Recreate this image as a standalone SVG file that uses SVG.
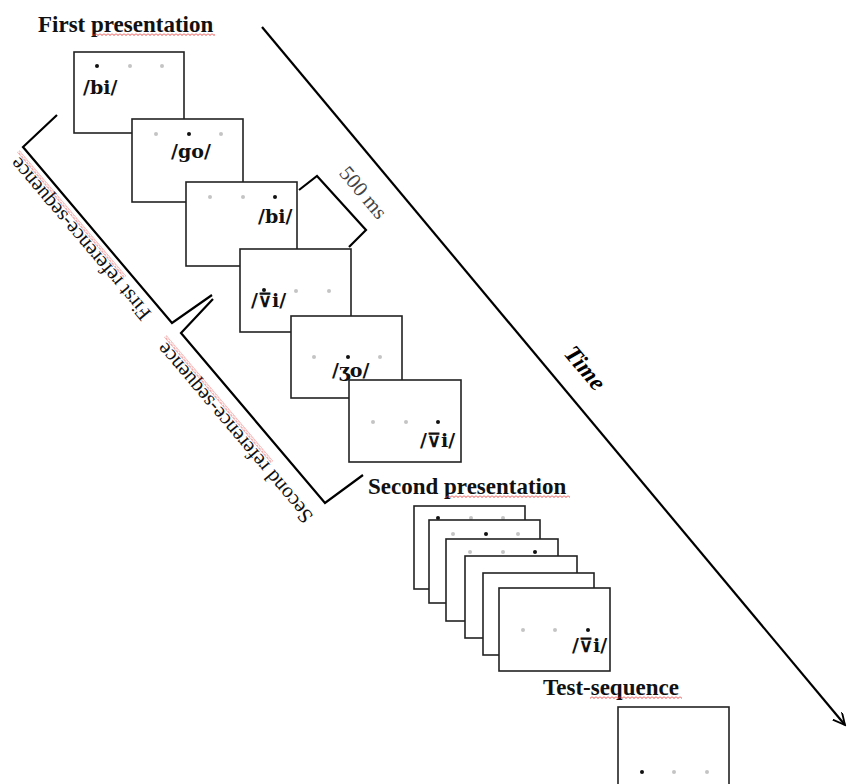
<svg xmlns="http://www.w3.org/2000/svg" width="847" height="784" viewBox="0 0 847 784">
<defs>
<style>
.fr{fill:#fff;stroke:#222;stroke-width:1.6}
.ln{fill:none;stroke:#000;stroke-width:2.2;stroke-linejoin:miter}
.bd{fill:#111}
.gd{fill:#c4c4c4}
.ttl{font-family:"Liberation Serif","Times New Roman",serif;font-weight:bold;font-size:23px;fill:#111}
.lab{font-family:"Liberation Serif","Times New Roman",serif;font-size:21px;fill:#111}
.syl{font-family:"DejaVu Serif","Liberation Serif",serif;font-weight:bold;font-size:19px;fill:#111}
</style>
<pattern id="sq" width="4" height="3" patternUnits="userSpaceOnUse">
<path d="M0,0.5 L2,2.5 L4,0.5" fill="none" stroke="#e53030" stroke-width="0.9"/>
</pattern>
<marker id="arr" markerWidth="14" markerHeight="14" refX="12" refY="6" orient="auto" markerUnits="userSpaceOnUse">
<path d="M0,0 L12,6 L0,12" fill="none" stroke="#000" stroke-width="1.8"/>
</marker>
</defs>
<rect width="847" height="784" fill="#fff"/>

<g id="connectors">
<line class="ln" x1="262" y1="27" x2="845" y2="725" marker-end="url(#arr)"/>
<polyline id="bracket-first" class="ln" points="57,115 23,147 172,323 212,295"/>
<polyline id="bracket-second" class="ln" points="213,299 181,333 325,503 363,475"/>
<polyline id="bracket-500" class="ln" points="299,190 317,176 366,230 349,247"/>
</g>

<g id="labels">
<text class="ttl" x="38" y="32">First presentation</text>
<rect x="92" y="33" width="123" height="3" fill="url(#sq)"/>
<text class="ttl" x="368" y="494">Second presentation</text>
<rect x="445" y="495" width="125" height="3" fill="url(#sq)"/>
<text class="ttl" x="543" y="695">Test-sequence</text>
<rect x="590" y="696" width="92" height="3" fill="url(#sq)"/>
<text class="lab" transform="translate(152,313) rotate(229.7)">First reference-sequence</text>
<rect transform="translate(125,277) rotate(229.7)" x="0" y="-1.5" width="165" height="3" fill="url(#sq)"/>
<text class="lab" transform="translate(314,516) rotate(229.7)">Second reference-sequence</text>
<rect transform="translate(272,462) rotate(229.7)" x="0" y="-1.5" width="165" height="3" fill="url(#sq)"/>
<text class="lab" fill="#444" style="fill:#444" text-anchor="middle" transform="translate(358,197) rotate(50)">500 ms</text>
<text text-anchor="middle" transform="translate(579,373) rotate(50)" font-family="Liberation Serif, Times New Roman, serif" font-weight="bold" font-style="italic" font-size="24" fill="#000">Time</text>
</g>

<g id="frame1">
<rect class="fr" x="74" y="52" width="110" height="81"/>
<circle class="bd" cx="97" cy="66" r="2"/><circle class="gd" cx="130" cy="66" r="2"/><circle class="gd" cx="162" cy="66" r="2"/>
<text class="syl" x="83" y="94">/bi/</text>
</g>
<g id="frame2">
<rect class="fr" x="132" y="119" width="111" height="83"/>
<circle class="gd" cx="156" cy="134" r="2"/><circle class="bd" cx="189" cy="134" r="2"/><circle class="gd" cx="221" cy="134" r="2"/>
<text class="syl" x="171" y="158">/go/</text>
</g>
<g id="frame3">
<rect class="fr" x="186" y="182" width="111" height="84"/>
<circle class="gd" cx="210" cy="197" r="2"/><circle class="gd" cx="243" cy="197" r="2"/><circle class="bd" cx="275" cy="197" r="2"/>
<text class="syl" x="258" y="223">/bi/</text>
</g>
<g id="frame4">
<rect class="fr" x="240" y="249" width="111" height="83"/>
<circle class="bd" cx="264" cy="290" r="2"/><circle class="gd" cx="296" cy="291" r="2"/><circle class="gd" cx="329" cy="291" r="2"/>
<text class="syl" x="251" y="307">/⊽i/</text>
</g>
<g id="frame5">
<rect class="fr" x="291" y="316" width="111" height="82"/>
<circle class="gd" cx="314" cy="357" r="2"/><circle class="bd" cx="348" cy="357" r="2"/><circle class="gd" cx="380" cy="357" r="2"/>
<text class="syl" x="332" y="377">/ʒo/</text>
</g>
<g id="frame6">
<rect class="fr" x="349" y="380" width="112" height="82"/>
<circle class="gd" cx="373" cy="422" r="2"/><circle class="gd" cx="406" cy="422" r="2"/><circle class="bd" cx="438" cy="422" r="2"/>
<text class="syl" x="420" y="447">/⊽i/</text>
</g>

<g id="second-frame1">
<rect class="fr" x="414" y="506" width="111" height="83"/>
<circle class="bd" cx="438" cy="518" r="2"/><circle class="gd" cx="471" cy="518" r="2"/><circle class="gd" cx="503" cy="518" r="2"/>
</g>
<g id="second-frame2">
<rect class="fr" x="429" y="520" width="111" height="83"/>
<circle class="gd" cx="453" cy="534" r="2"/><circle class="bd" cx="486" cy="534" r="2"/><circle class="gd" cx="518" cy="534" r="2"/>
</g>
<g id="second-frame3">
<rect class="fr" x="446" y="539" width="112" height="82"/>
<circle class="gd" cx="470" cy="552" r="2"/><circle class="gd" cx="503" cy="552" r="2"/><circle class="bd" cx="535" cy="552" r="2"/>
</g>
<g id="second-frame4">
<rect class="fr" x="465" y="556" width="112" height="82"/>
</g>
<g id="second-frame5">
<rect class="fr" x="483" y="573" width="111" height="82"/>
</g>
<g id="second-frame6">
<rect class="fr" x="499" y="588" width="111" height="83"/>
<circle class="gd" cx="523" cy="630" r="2"/><circle class="gd" cx="555" cy="630" r="2"/><circle class="bd" cx="588" cy="630" r="2"/>
<text class="syl" x="572" y="652">/⊽i/</text>
</g>

<g id="test-frame">
<rect class="fr" x="618" y="707" width="111" height="90"/>
<circle class="bd" cx="642" cy="772" r="2"/><circle class="gd" cx="674" cy="772" r="2"/><circle class="gd" cx="707" cy="772" r="2"/>
</g>
</svg>
